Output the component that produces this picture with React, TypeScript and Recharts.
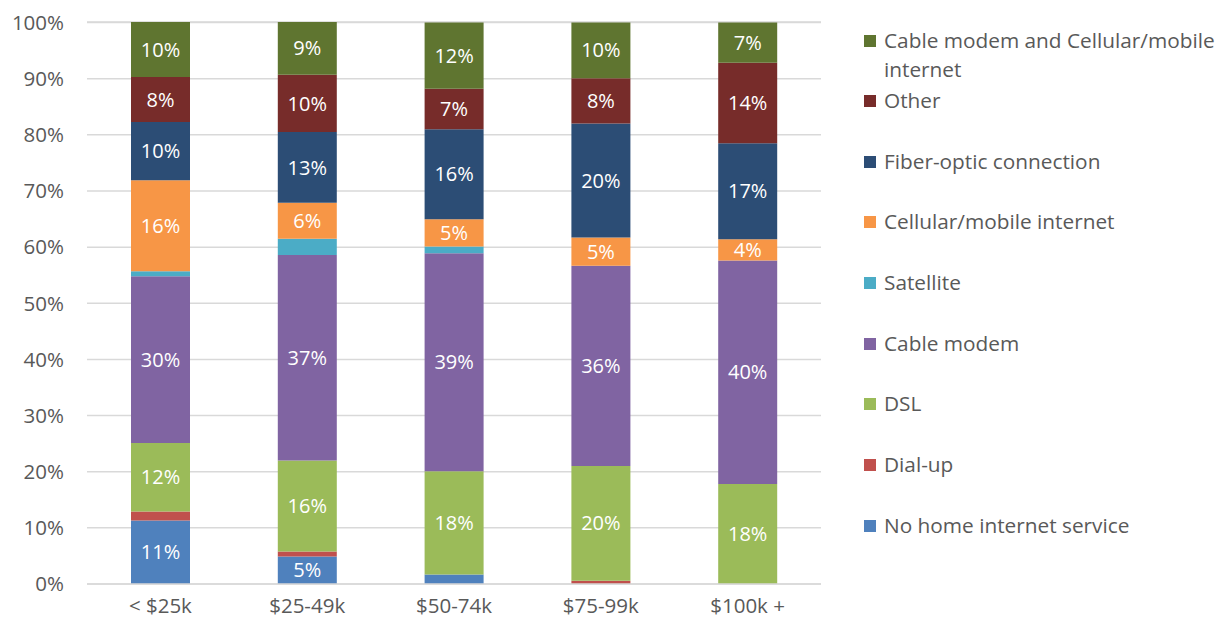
import React from 'react';
import { BarChart, Bar, XAxis, YAxis, CartesianGrid, LabelList } from 'recharts';

const categories = ['< $25k', '$25-49k', '$50-74k', '$75-99k', '$100k +'];

const seriesNames = [
  'No home internet service',
  'Dial-up',
  'DSL',
  'Cable modem',
  'Satellite',
  'Cellular/mobile internet',
  'Fiber-optic connection',
  'Other',
  'Cable modem and Cellular/mobile internet',
];

const noHome = [11.3, 4.9, 1.7, 0, 0];
const dialUp = [1.6, 0.9, 0, 0.6, 0];
const dsl = [12.2, 16.2, 18.4, 20.4, 17.8];
const cableModem = [29.7, 36.6, 38.8, 35.7, 39.8];
const satellite = [0.9, 2.9, 1.2, 0, 0];
const cellular = [16.2, 6.4, 4.85, 5.0, 3.8];
const fiber = [10.4, 12.6, 16.05, 20.3, 17.1];
const other = [8.0, 10.2, 7.2, 8.1, 14.35];
const cableAndCellular = [9.8, 9.4, 11.8, 9.9, 7.15];

const yTicks = [0, 10, 20, 30, 40, 50, 60, 70, 80, 90, 100];

const seriesValues = [noHome, dialUp, dsl, cableModem, satellite, cellular, fiber, other, cableAndCellular];
const colors = ['#4F81BD', '#C0504D', '#9BBB59', '#8064A2', '#4BACC6', '#F79646', '#2C4D75', '#772C2A', '#5F7530'];

const keys = seriesNames.map((_, i) => 's' + i);
const data = categories.map((c, ci) => {
  const row: Record<string, any> = { cat: c };
  seriesValues.forEach((vals, si) => {
    row[keys[si]] = vals[ci];
  });
  return row;
});

const FONT = '"Open Sans", sans-serif';
const GRAY = '#595959';

const labelFormatter = (v: any) => (typeof v === 'number' && v >= 3.5 ? Math.round(v) + '%' : '');

export default function App() {
  const legendItems = seriesNames.map((n, i) => ({ name: n, color: colors[i] })).reverse();
  return (
    <div style={{ position: 'absolute', left: 0, top: 0, width: 1226, height: 626, background: '#fff', fontFamily: FONT }}>
      <BarChart
        width={1226}
        height={626}
        data={data}
        margin={{ top: 22, right: 405, bottom: 2, left: 0 }}
        barSize={59}
      >
        <CartesianGrid vertical={false} stroke="#D9D9D9" strokeWidth={1.5} />
        <XAxis
          dataKey="cat"
          height={40}
          tickLine={false}
          axisLine={{ stroke: '#D9D9D9', strokeWidth: 1.5 }}
          tickMargin={8}
          tick={{ fill: GRAY, fontSize: 20.5, fontFamily: FONT }}
        />
        <YAxis
          width={87}
          domain={[0, 100]}
          ticks={yTicks}
          tickFormatter={(v: number) => v + '%'}
          tickLine={false}
          axisLine={false}
          tickMargin={17}
          tick={{ fill: GRAY, fontSize: 20.5, fontFamily: FONT }}
          interval={0}
        />
        {keys.map((k, i) => (
          <Bar key={k} dataKey={k} stackId="a" fill={colors[i]} isAnimationActive={false} name={seriesNames[i]}>
            <LabelList
              dataKey={k}
              position="center"
              formatter={labelFormatter}
              fill="#FFFFFF"
              style={{ fontSize: 20, fontFamily: FONT, fill: '#FFFFFF' }}
            />
          </Bar>
        ))}
      </BarChart>
      {legendItems.map((it, i) => (
        <div
          key={it.name}
          style={{
            position: 'absolute',
            left: 864,
            top: 40 + i * 60.65 - 14.5,
            width: 362,
            display: 'flex',
            alignItems: 'flex-start',
          }}
        >
          <div style={{ width: 12, height: 12, background: it.color, marginTop: 9, flexShrink: 0 }} />
          <div style={{ marginLeft: 8, width: 342, fontSize: 20.8, lineHeight: '29px', color: GRAY, fontFamily: FONT }}>
            {it.name}
          </div>
        </div>
      ))}
    </div>
  );
}
